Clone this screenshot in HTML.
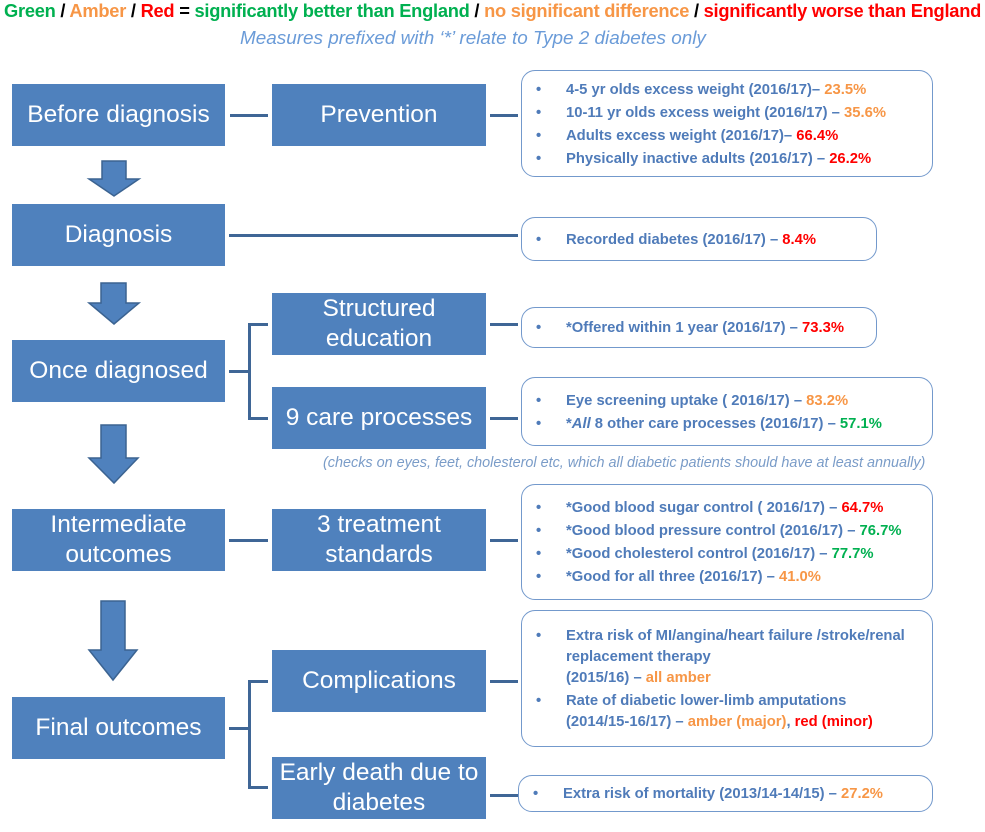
<!DOCTYPE html>
<html><head><meta charset="utf-8"><style>
body{margin:0;width:985px;height:832px;background:#fff;position:relative;overflow:hidden;font-family:"Liberation Sans",sans-serif}
.a{position:absolute}
.box{position:absolute;background:#4f81bd;color:#fff;font-size:24.5px;display:flex;align-items:center;justify-content:center;text-align:center;line-height:30px;white-space:nowrap}
.ln{position:absolute;background:#3f6696}
.pn{position:absolute;border:1.5px solid #7399cc;border-radius:14px;box-sizing:border-box;font-size:14.8px;font-weight:bold;color:#4f7bb9;padding:2px 0 0 14px;display:flex;flex-direction:column;justify-content:center}
.pn div{line-height:23px;white-space:nowrap}
.b{display:inline-block;width:30px}
.g{color:#00b050}.o{color:#f79646}.r{color:#ff0000}
</style></head><body>
<div class="a" style="left:4px;top:0px;font-size:18.3px;font-weight:bold;white-space:nowrap;letter-spacing:-0.25px"><span class="g">Green</span> / <span class="o">Amber</span> / <span class="r">Red</span> = <span class="g">significantly better than England</span> / <span class="o">no significant difference</span> / <span class="r">significantly worse than England</span></div>
<div class="a" style="left:240px;top:28px;font-size:18.9px;font-style:italic;color:#6a9bd8;white-space:nowrap">Measures prefixed with ‘*’ relate to Type 2 diabetes only</div>

<div class="box" style="left:12px;top:84px;width:213px;height:62px">Before diagnosis</div>
<div class="box" style="left:12px;top:204px;width:213px;height:62px">Diagnosis</div>
<div class="box" style="left:12px;top:340px;width:213px;height:62px">Once diagnosed</div>
<div class="box" style="left:12px;top:509px;width:213px;height:62px">Intermediate<br>outcomes</div>
<div class="box" style="left:12px;top:697px;width:213px;height:62px">Final outcomes</div>

<div class="box" style="left:272px;top:84px;width:214px;height:62px">Prevention</div>
<div class="box" style="left:272px;top:293px;width:214px;height:62px">Structured<br>education</div>
<div class="box" style="left:272px;top:387px;width:214px;height:62px">9 care processes</div>
<div class="box" style="left:272px;top:509px;width:214px;height:62px">3 treatment<br>standards</div>
<div class="box" style="left:272px;top:650px;width:214px;height:62px">Complications</div>
<div class="box" style="left:272px;top:757px;width:214px;height:62px">Early death due to<br>diabetes</div>

<div class="ln" style="left:230px;top:114px;width:38px;height:3px"></div>
<div class="ln" style="left:490px;top:114px;width:28px;height:3px"></div>
<div class="ln" style="left:229px;top:234px;width:289px;height:3px"></div>
<div class="ln" style="left:229px;top:370px;width:21px;height:3px"></div>
<div class="ln" style="left:248px;top:323px;width:3px;height:96px"></div>
<div class="ln" style="left:248px;top:323px;width:20px;height:3px"></div>
<div class="ln" style="left:248px;top:417px;width:20px;height:3px"></div>
<div class="ln" style="left:490px;top:323px;width:28px;height:3px"></div>
<div class="ln" style="left:490px;top:417px;width:28px;height:3px"></div>
<div class="ln" style="left:229px;top:539px;width:39px;height:3px"></div>
<div class="ln" style="left:490px;top:539px;width:28px;height:3px"></div>
<div class="ln" style="left:229px;top:727px;width:21px;height:3px"></div>
<div class="ln" style="left:248px;top:680px;width:3px;height:109px"></div>
<div class="ln" style="left:248px;top:680px;width:20px;height:3px"></div>
<div class="ln" style="left:248px;top:786px;width:20px;height:3px"></div>
<div class="ln" style="left:490px;top:680px;width:28px;height:3px"></div>
<div class="ln" style="left:490px;top:794px;width:28px;height:3px"></div>

<svg class="a" style="left:0;top:0" width="985" height="832">
<g fill="#4f81bd" stroke="#3b6391" stroke-width="1.5">
<polygon points="102,161 126,161 126,179 139,179 114,196 89,179 102,179"/>
<polygon points="101,283 126,283 126,303 139,303 114,324 89,303 101,303"/>
<polygon points="101,425 126,425 126,458 138,458 114,483 89,458 101,458"/>
<polygon points="101,601 125,601 125,650 137,650 113,680 89,650 101,650"/>
</g></svg>

<div class="pn" style="left:521px;top:70px;width:412px;height:107px">
<div><span class="b">•</span>4-5 yr olds excess weight (2016/17)– <span class="o">23.5%</span></div>
<div><span class="b">•</span>10-11 yr olds excess weight (2016/17) – <span class="o">35.6%</span></div>
<div><span class="b">•</span>Adults excess weight (2016/17)– <span class="r">66.4%</span></div>
<div><span class="b">•</span>Physically inactive adults (2016/17) – <span class="r">26.2%</span></div>
</div>
<div class="pn" style="left:521px;top:217px;width:356px;height:44px">
<div><span class="b">•</span>Recorded diabetes (2016/17) – <span class="r">8.4%</span></div>
</div>
<div class="pn" style="left:521px;top:307px;width:356px;height:41px">
<div><span class="b">•</span>*Offered within 1 year (2016/17) – <span class="r">73.3%</span></div>
</div>
<div class="pn" style="left:521px;top:377px;width:412px;height:69px">
<div><span class="b">•</span>Eye screening uptake ( 2016/17) – <span class="o">83.2%</span></div>
<div><span class="b">•</span>*<i>All</i> 8 other care processes (2016/17) – <span class="g">57.1%</span></div>
</div>
<div class="a" style="left:323px;top:455px;font-size:14.4px;font-style:italic;color:#7a9cc8;white-space:nowrap">(checks on eyes, feet, cholesterol etc, which all diabetic patients should have at least annually)</div>
<div class="pn" style="left:521px;top:484px;width:412px;height:116px">
<div><span class="b">•</span>*Good blood sugar control ( 2016/17) – <span class="r">64.7%</span></div>
<div><span class="b">•</span>*Good blood pressure control (2016/17) – <span class="g">76.7%</span></div>
<div><span class="b">•</span>*Good cholesterol control (2016/17) – <span class="g">77.7%</span></div>
<div><span class="b">•</span>*Good for all three (2016/17) – <span class="o">41.0%</span></div>
</div>
<div class="pn" style="left:521px;top:610px;width:412px;height:137px">
<div style="line-height:21px;white-space:normal;display:flex"><span class="b" style="flex:none">•</span><span>Extra risk of MI/angina/heart failure /stroke/renal replacement therapy<br>(2015/16) – <span class="o">all amber</span></span></div>
<div style="line-height:21px;white-space:normal;display:flex;margin-top:2px"><span class="b" style="flex:none">•</span><span>Rate of diabetic lower-limb amputations<br>(2014/15-16/17) – <span class="o">amber (major)</span>, <span class="r">red (minor)</span></span></div>
</div>
<div class="pn" style="left:518px;top:775px;width:415px;height:37px">
<div><span class="b">•</span>Extra risk of mortality (2013/14-14/15) – <span class="o">27.2%</span></div>
</div>
</body></html>
